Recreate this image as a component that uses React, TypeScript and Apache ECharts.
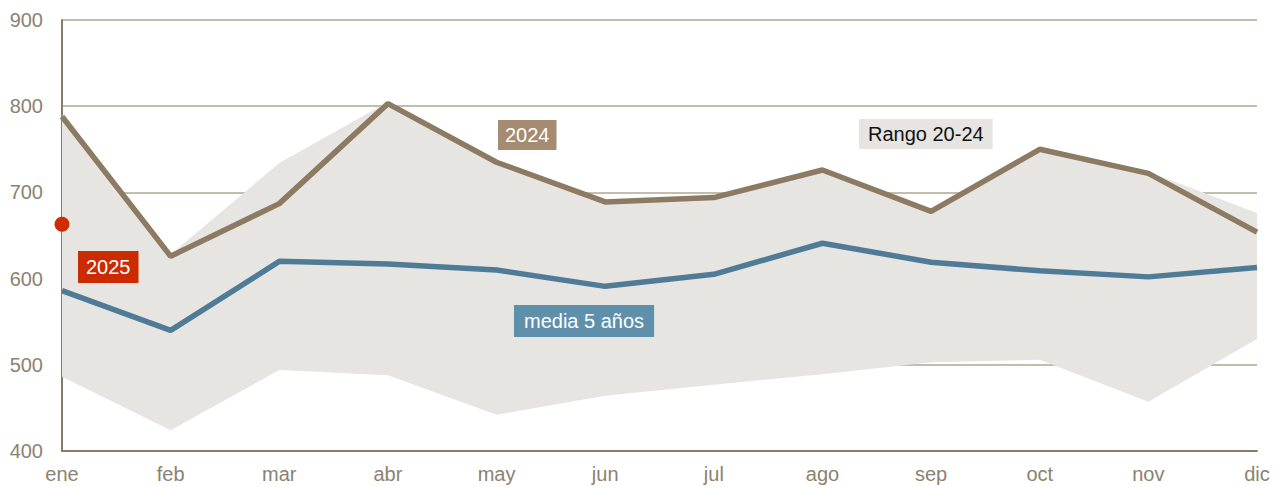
import React, { useEffect, useRef } from "react";
import * as echarts from "echarts";

const months = ["ene", "feb", "mar", "abr", "may", "jun", "jul", "ago", "sep", "oct", "nov", "dic"];
const y2024 = [788, 626, 687, 803, 735, 689, 694, 726, 678, 750, 722, 654];
const media5 = [586, 540, 620, 617, 610, 591, 605, 641, 619, 609, 602, 613];
const rangoMin = [486, 424, 494, 488, 442, 464, 477, 489, 503, 506, 457, 530];
const rangoMax = [790, 628, 734, 805, 737, 691, 696, 728, 680, 752, 724, 676];
const y2025 = [663];
const yTicks = [400, 500, 600, 700, 800, 900];

const FONT = "'Liberation Sans', Arial, sans-serif";

export default function App() {
  const ref = useRef<HTMLDivElement>(null);
  useEffect(() => {
    if (!ref.current) return;
    const chart = echarts.init(ref.current, null, { renderer: "svg" });
    const diff = rangoMax.map((v, i) => v - rangoMin[i]);
    chart.setOption({
      animation: false,
      grid: { left: 62, right: 27, top: 20, bottom: 36, containLabel: false },
      xAxis: {
        type: "category",
        data: months,
        boundaryGap: false,
        axisLine: { show: true, lineStyle: { color: "#8a7c64", width: 2 } },
        axisTick: { show: false },
        axisLabel: { color: "#8c8270", fontSize: 20, fontFamily: FONT, margin: 13 },
        splitLine: { show: false },
      },
      yAxis: {
        type: "value",
        min: yTicks[0],
        max: yTicks[yTicks.length - 1],
        interval: 100,
        axisLine: { show: true, lineStyle: { color: "#8a7c64", width: 2 } },
        axisTick: { show: false },
        axisLabel: { color: "#8c8270", fontSize: 20, fontFamily: FONT, margin: 19 },
        splitLine: { show: true, lineStyle: { color: "#c4bcac", width: 2 } },
      },
      series: [
        {
          type: "line",
          name: "min",
          data: rangoMin,
          stack: "rango",
          symbol: "none",
          lineStyle: { width: 0, opacity: 0 },
          silent: true,
          z: 1,
        },
        {
          type: "line",
          name: "Rango 20-24",
          data: diff,
          stack: "rango",
          symbol: "none",
          lineStyle: { width: 0, opacity: 0 },
          areaStyle: { color: "#e6e5e1", opacity: 1 },
          silent: true,
          z: 1,
        },
        {
          type: "line",
          name: "media 5 años",
          data: media5,
          symbol: "none",
          lineStyle: { color: "#4f7b97", width: 5.5 },
          z: 3,
        },
        {
          type: "line",
          name: "2024",
          data: y2024,
          symbol: "none",
          lineStyle: { color: "#8c7a62", width: 5.5 },
          z: 4,
        },
        {
          type: "scatter",
          name: "2025",
          data: y2025.map((v, i) => [i, v]),
          symbol: "circle",
          symbolSize: 15,
          itemStyle: { color: "#d02c00", opacity: 1 },
          z: 5,
        },
      ],
      graphic: [
        {
          type: "text",
          left: 498,
          top: 120,
          z: 10,
          style: {
            text: "2024",
            fill: "#ffffff",
            font: `20px ${FONT}`,
            backgroundColor: "#a58b6f",
            padding: [5, 7, 5, 7],
          },
        },
        {
          type: "text",
          left: 859,
          top: 119,
          z: 10,
          style: {
            text: "Rango 20-24",
            fill: "#111111",
            font: `20px ${FONT}`,
            backgroundColor: "#e6e5e1",
            padding: [5, 9, 5, 9],
          },
        },
        {
          type: "text",
          left: 514,
          top: 305,
          z: 10,
          style: {
            text: "media 5 años",
            fill: "#ffffff",
            font: `20px ${FONT}`,
            backgroundColor: "#5e8fab",
            padding: [6, 10, 6, 10],
          },
        },
        {
          type: "text",
          left: 78,
          top: 251,
          z: 10,
          style: {
            text: "2025",
            fill: "#ffffff",
            font: `20px ${FONT}`,
            backgroundColor: "#cc2a00",
            padding: [6, 8, 6, 8],
          },
        },
      ],
    });
    return () => chart.dispose();
  }, []);
  return <div ref={ref} style={{ width: 1284, height: 487, position: "absolute", left: 0, top: 0 }} />;
}
